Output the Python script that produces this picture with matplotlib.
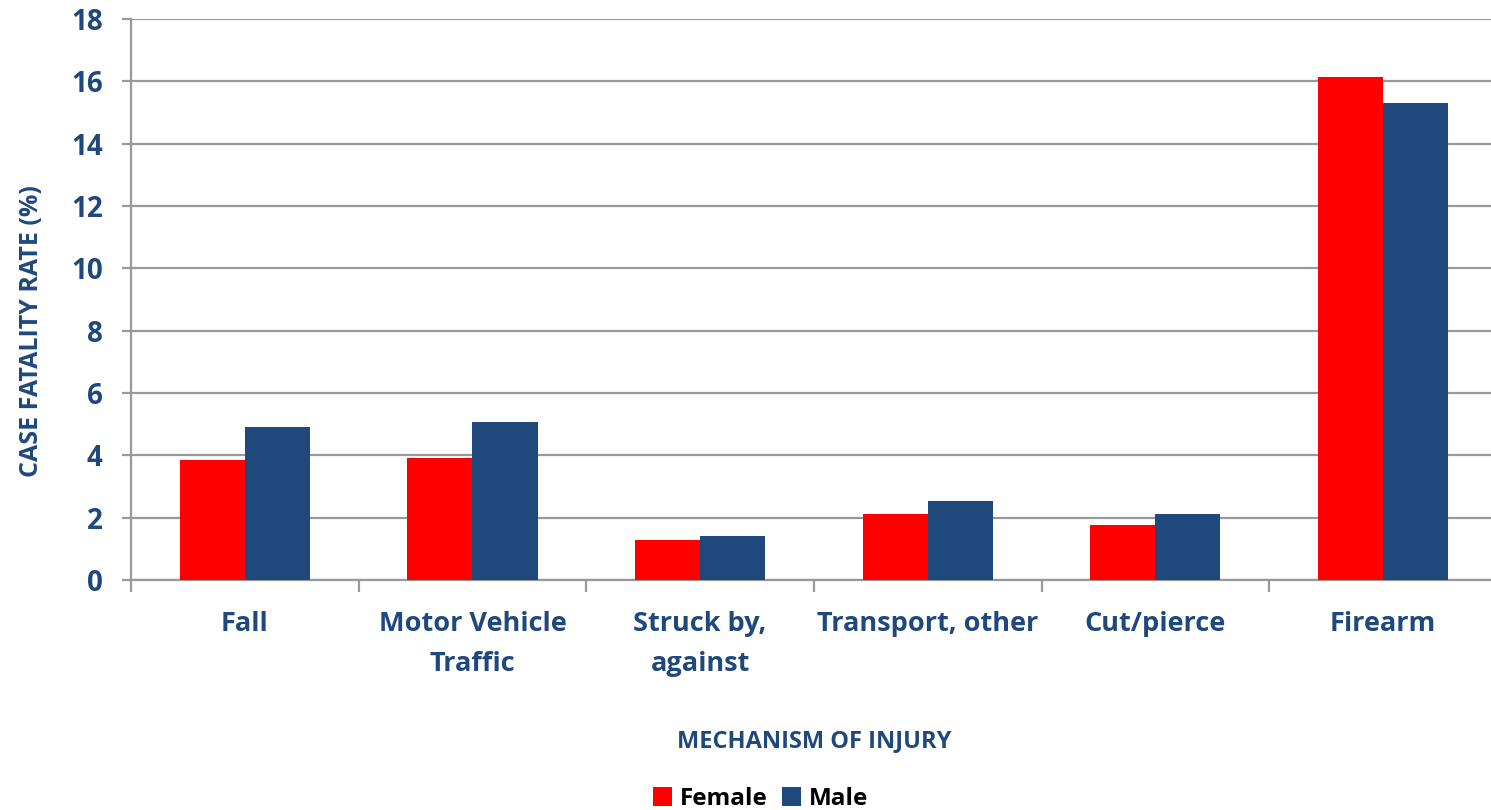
import matplotlib.pyplot as plt
import numpy as np

categories = ['Fall', 'Motor Vehicle\nTraffic', 'Struck by,\nagainst',
              'Transport, other', 'Cut/pierce', 'Firearm']
female = [3.85, 3.9, 1.28, 2.12, 1.76, 16.13]
male = [4.91, 5.07, 1.41, 2.54, 2.12, 15.30]

text_color = '#1F497D'
plt.rcParams['font.family'] = ['Open Sans', 'DejaVu Sans']
plt.rcParams['font.weight'] = 'bold'

fig = plt.figure(figsize=(14.91, 8.10), dpi=100)
ax = fig.add_axes([0.0879, 0.284, 0.916, 0.6925])

x = np.arange(len(categories))
w = 0.286
ax.bar(x - w / 2, female, w, color='#FF0000', label='Female', zorder=3)
ax.bar(x + w / 2, male, w, color='#1F497D', label='Male', zorder=3)

ax.set_xlim(-0.5, len(categories) - 0.5)
ax.set_ylim(0, 18)
ax.set_yticks(range(0, 19, 2))
ax.yaxis.grid(True, color='#999999', linewidth=1.6, zorder=0)
ax.tick_params(axis='y', length=6.5, width=1.6, color='#999999',
               labelsize=20, labelcolor=text_color, pad=14)

ax.set_xticks(x)
ax.set_xticklabels(categories, fontsize=19.5, color=text_color, weight='bold',
                   linespacing=1.7)
ax.tick_params(axis='x', length=0, pad=22)
ax.set_xticks(np.arange(-0.5, len(categories)), minor=True)
ax.tick_params(axis='x', which='minor', length=8.6, width=1.6, color='#999999')

for side in ['top', 'right']:
    ax.spines[side].set_visible(False)
for side in ['left', 'bottom']:
    ax.spines[side].set_color('#999999')
    ax.spines[side].set_linewidth(1.6)

ax.set_ylabel('CASE FATALITY RATE (%)', fontsize=18, color=text_color,
              weight='bold', labelpad=19, y=0.444)
ax.set_xlabel('MECHANISM OF INJURY', fontsize=17, color=text_color,
              weight='bold', labelpad=38)

fig.legend(loc='lower center', bbox_to_anchor=(0.51, -0.028), ncol=2,
           frameon=False, fontsize=17.5, handlelength=0.8, handleheight=0.8,
           handletextpad=0.3, columnspacing=0.6)

fig.savefig('out.png', dpi=100)
